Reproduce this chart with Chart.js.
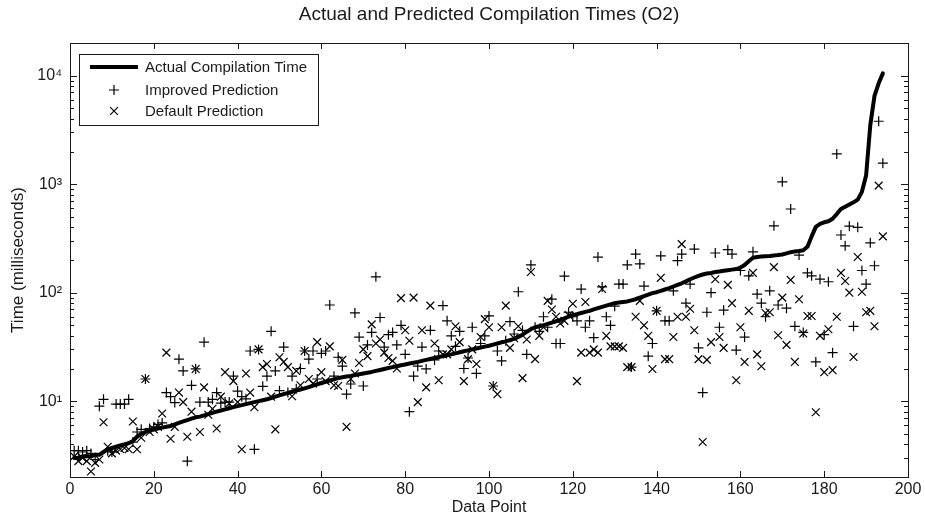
<!DOCTYPE html>
<html>
<head>
<meta charset="utf-8">
<script src="https://cdn.jsdelivr.net/npm/chart.js@4.4.1/dist/chart.umd.min.js"></script>
<style>
  html, body { margin: 0; padding: 0; background: #fff; }
</style>
</head>
<body>
<canvas id="chart" width="925" height="527"></canvas>
<script>
// measured compile time (ms), one per data point, already sorted
const actualTime = [
  3.0, 3.0, 3.1, 3.1, 3.1, 3.2, 3.2, 3.4, 3.6, 3.7,
  3.8, 3.9, 4.0, 4.1, 4.3, 4.7, 5.0, 5.2, 5.4, 5.5,
  5.6, 5.7, 5.8, 5.9, 6.1, 6.3, 6.5, 6.7, 6.9, 7.1,
  7.2, 7.4, 7.6, 7.8, 8.0, 8.2, 8.4, 8.6, 8.8, 9.0,
  9.2, 9.4, 9.6, 9.8, 10.0, 10.2, 10.4, 10.7, 11.0, 11.3,
  11.6, 11.9, 12.2, 12.5, 12.8, 13.1, 13.5, 13.9, 14.3, 14.7,
  15.1, 15.5, 15.9, 16.3, 16.6, 16.9, 17.1, 17.4, 17.7, 18.0,
  18.3, 18.6, 19.0, 19.4, 19.8, 20.2, 20.6, 21.0, 21.4, 21.8,
  22.2, 22.6, 23.0, 23.5, 24.0, 24.5, 25.0, 25.5, 26.0, 26.5,
  27.0, 27.6, 28.2, 28.8, 29.4, 30.0, 30.6, 31.2, 31.8, 32.4,
  33.2, 34.0, 34.8, 35.6, 36.5, 37.5, 39.0, 41.0, 43.5, 46.0,
  48, 49, 50, 51.5, 53, 54.5, 56, 58, 60, 62,
  63.5, 65, 66.5, 68, 70, 72, 74, 76, 78, 80,
  81, 82, 83, 85, 87, 90, 93, 96, 99, 101,
  104, 107, 110, 114, 118, 122, 127, 133, 138, 143,
  147, 150, 152, 155, 157, 159, 161, 163, 165, 170,
  180, 195, 210, 213, 215, 217, 218, 220, 222, 225,
  230, 236, 240, 242, 246, 265, 330, 404, 430, 445,
  455, 480, 530, 590, 620, 650, 680, 720, 850, 1200,
  3500, 6500, 8500, 10500
];

const improvedPrediction = [
  3.5, 3.5, 3.4, 3.5, 3.3, 2.9, 9.0, 10.4, 3.5, 3.4,
  9.4, 9.4, 9.4, 10.4, 4.2, 5.2, 5.5, 16, 5.6, 5.8,
  6.1, 6.3, 12, 11, 9.7, 24.4, 19, 2.8, 14, 19.8,
  9.8, 35, 9.8, 10.4, 12, 9.6, 9.8, 9.8, 17, 12.4,
  11, 10.5, 29, 3.6, 30, 13.7, 17, 44, 19, 12.5,
  31.5, 12, 17, 13, 20, 29, 24.4, 29, 16, 27.6,
  29, 77, 17, 25.4, 21, 11.6, 14.4, 65, 39, 13.8,
  33, 43, 140, 59, 31.5, 41, 43, 33, 50, 27,
  8, 17, 21, 31.5, 19.8, 45, 24, 29, 76, 55,
  40, 32, 44, 20, 25, 48, 18, 34, 40, 61,
  13.8, 29, 23.5, 36, 54, 41.6, 102, 45, 27, 180,
  48, 44, 60, 48, 87, 34, 34, 142, 66, 60,
  55, 108, 48, 55, 38.5, 213, 113, 60, 50, 75,
  120, 120, 180, 20.6, 227, 184, 115, 26, 34, 68,
  218, 55, 55, 104, 197, 227, 80, 120, 252, 31,
  12, 66, 100, 232, 48, 69, 249, 227, 29.6, 160,
  39, 143, 238, 97, 80, 60, 104, 413, 77, 1050,
  72, 590, 49, 222, 43, 152, 143, 23, 133, 41,
  126, 28, 1900, 340, 270, 410, 49, 400, 160, 120,
  288, 177, 3800, 1560
];

const defaultPrediction = [
  3.1, 2.8, 3.0, 2.8, 2.25, 2.7, 2.9, 6.4, 3.8, 3.3,
  3.5, 3.6, 3.7, 3.6, 6.5, 3.6, 4.6, 16, 5.2, 5.5,
  5.8, 7.7, 28, 4.5, 5.8, 12, 9.8, 4.7, 8, 19.8,
  5.2, 13.4, 7.5, 8.5, 5.6, 11, 18.5, 9.5, 15.3, 9.8,
  3.6, 18, 12, 8.8, 30, 20.6, 22, 11, 5.5, 25.4,
  23, 20.6, 11.1, 19, 14, 29, 16, 14.5, 35, 18.5,
  15.3, 32, 14, 13.8, 24, 5.8, 16, 18, 22.5, 30,
  26, 51, 34, 37, 28, 25, 23.5, 20, 89, 45,
  36, 90, 9.8, 45, 13.4, 76, 34, 15.6, 27, 27,
  30, 49, 35, 15.3, 24.4, 30, 22, 39, 57, 48,
  13.8, 11.6, 48, 76, 31, 38, 49, 16.3, 37, 155,
  24.4, 40, 48, 84, 70, 60, 52, 55, 62, 79,
  15.3, 28, 82, 28, 30, 28, 108, 40, 32, 32,
  32, 31, 20.6, 20.6, 60, 84, 50, 40, 19.8, 68,
  137, 24.4, 24.4, 39, 60, 280, 60, 71, 45, 24.4,
  4.2, 24, 35, 133, 39, 31, 118, 80, 15.6, 48,
  23, 68, 152, 27, 21, 65, 66, 172, 40.5, 90,
  33, 131, 23, 87, 42, 61, 61, 7.9, 40, 18.5,
  46, 19.3, 60, 152, 128, 100, 25.5, 213, 102, 66,
  68, 49, 970, 330
];

const xTicks = [0, 20, 40, 60, 80, 100, 120, 140, 160, 180, 200];
const yTicks = [10, 100, 1000, 10000];
const yTickLabels = ["10\u00b9", "10\u00b2", "10\u00b3", "10\u2074"];

const FONT = "'Liberation Sans', Arial, Helvetica, sans-serif";
const INK = "#1a1a1a";

// x = position in the sorted list (1-based)
const toPoints = arr => arr.map((v, i) => ({ x: i + 1, y: v }));

// matlab style box, inward ticks, in-axes legend and title
const matlabFrame = {
  id: "matlabFrame",
  afterDraw(chart) {
    const { ctx, chartArea: a, scales } = chart;
    const xs = scales.x, ys = scales.y;
    ctx.save();
    ctx.strokeStyle = INK;
    ctx.lineWidth = 1;
    ctx.strokeRect(a.left + 0.5, a.top + 0.5, a.right - a.left, a.bottom - a.top);

    ctx.beginPath();
    xTicks.forEach(v => {
      const px = Math.round(xs.getPixelForValue(v)) + 0.5;
      ctx.moveTo(px, a.bottom); ctx.lineTo(px, a.bottom - 6);
      ctx.moveTo(px, a.top); ctx.lineTo(px, a.top + 6);
    });
    [1, 10, 100, 1000, 10000].forEach(dec => {
      for (let m = 1; m <= 9; m++) {
        const v = dec * m;
        if (v < ys.min || v > ys.max) continue;
        const len = m === 1 ? 7 : 4;
        const py = Math.round(ys.getPixelForValue(v)) + 0.5;
        ctx.moveTo(a.left, py); ctx.lineTo(a.left + len, py);
        ctx.moveTo(a.right, py); ctx.lineTo(a.right - len, py);
      }
    });
    ctx.stroke();

    // title
    ctx.fillStyle = INK;
    ctx.font = "19px " + FONT;
    ctx.textAlign = "center";
    ctx.textBaseline = "middle";
    ctx.fillText("Actual and Predicted Compilation Times (O2)", (a.left + a.right) / 2, 15);

    // legend box
    const lx = 79, ly = 54, lw = 239, lh = 71;
    ctx.fillStyle = "#fff";
    ctx.fillRect(lx, ly, lw, lh);
    ctx.strokeRect(lx + 0.5, ly + 0.5, lw, lh);
    const ds = chart.data.datasets;
    const rows = [67, 90, 111];
    ctx.font = "15px " + FONT;
    ctx.textAlign = "left";
    ds.forEach((d, i) => {
      const y = rows[i];
      ctx.strokeStyle = d.borderColor;
      if (d.showLine) {
        ctx.lineWidth = d.borderWidth;
        ctx.beginPath(); ctx.moveTo(90, y); ctx.lineTo(138, y); ctx.stroke();
      } else {
        ctx.lineWidth = d.pointBorderWidth;
        Chart.helpers.drawPoint(ctx, {
          pointStyle: d.pointStyle, radius: d.pointRadius,
          borderWidth: d.pointBorderWidth, rotation: 0
        }, 114, y);
      }
      ctx.fillStyle = INK;
      ctx.fillText(d.label, 145, y + 1);
    });
    ctx.restore();
  }
};

new Chart(document.getElementById("chart"), {
  type: "scatter",
  data: {
    datasets: [
      {
        label: "Actual Compilation Time",
        data: toPoints(actualTime),
        showLine: true,
        borderColor: "#000",
        borderWidth: 4,
        pointRadius: 0,
        tension: 0,
        borderJoinStyle: "round",
        borderCapStyle: "round"
      },
      {
        label: "Improved Prediction",
        data: toPoints(improvedPrediction),
        showLine: false,
        pointStyle: "cross",
        pointRadius: 5,
        pointBorderWidth: 1.2,
        borderColor: "#000",
        backgroundColor: "#000"
      },
      {
        label: "Default Prediction",
        data: toPoints(defaultPrediction),
        showLine: false,
        pointStyle: "crossRot",
        pointRadius: 5.5,
        pointBorderWidth: 1.2,
        borderColor: "#000",
        backgroundColor: "#000"
      }
    ]
  },
  options: {
    responsive: false,
    animation: false,
    layout: { padding: { top: 43, right: 17, left: 0, bottom: 0 } },
    plugins: { legend: { display: false }, tooltip: { enabled: false }, title: { display: false } },
    scales: {
      x: {
        type: "linear",
        min: 0, max: 200,
        afterBuildTicks: s => { s.ticks = xTicks.map(v => ({ value: v })); },
        ticks: { autoSkip: false, maxRotation: 0, padding: 3, color: INK, font: { family: FONT, size: 16 } },
        grid: { display: false, drawTicks: false },
        border: { display: false },
        title: { display: true, text: "Data Point", color: INK, font: { family: FONT, size: 16 }, padding: { top: 0, bottom: 10 } },
        afterFit: s => { s.height = 50; }
      },
      y: {
        type: "logarithmic",
        min: 2, max: 20000,
        afterBuildTicks: s => { s.ticks = yTicks.map(v => ({ value: v })); },
        ticks: {
          autoSkip: false, padding: 8, color: INK, font: { family: FONT, size: 16 },
          callback: v => yTickLabels[yTicks.indexOf(v)]
        },
        grid: { display: false, drawTicks: false },
        border: { display: false },
        title: { display: true, text: "Time (milliseconds)", color: INK, font: { family: FONT, size: 17 }, padding: { top: 8, bottom: 0 } },
        afterFit: s => { s.width = 70; }
      }
    }
  },
  plugins: [matlabFrame]
});
</script>
</body>
</html>
